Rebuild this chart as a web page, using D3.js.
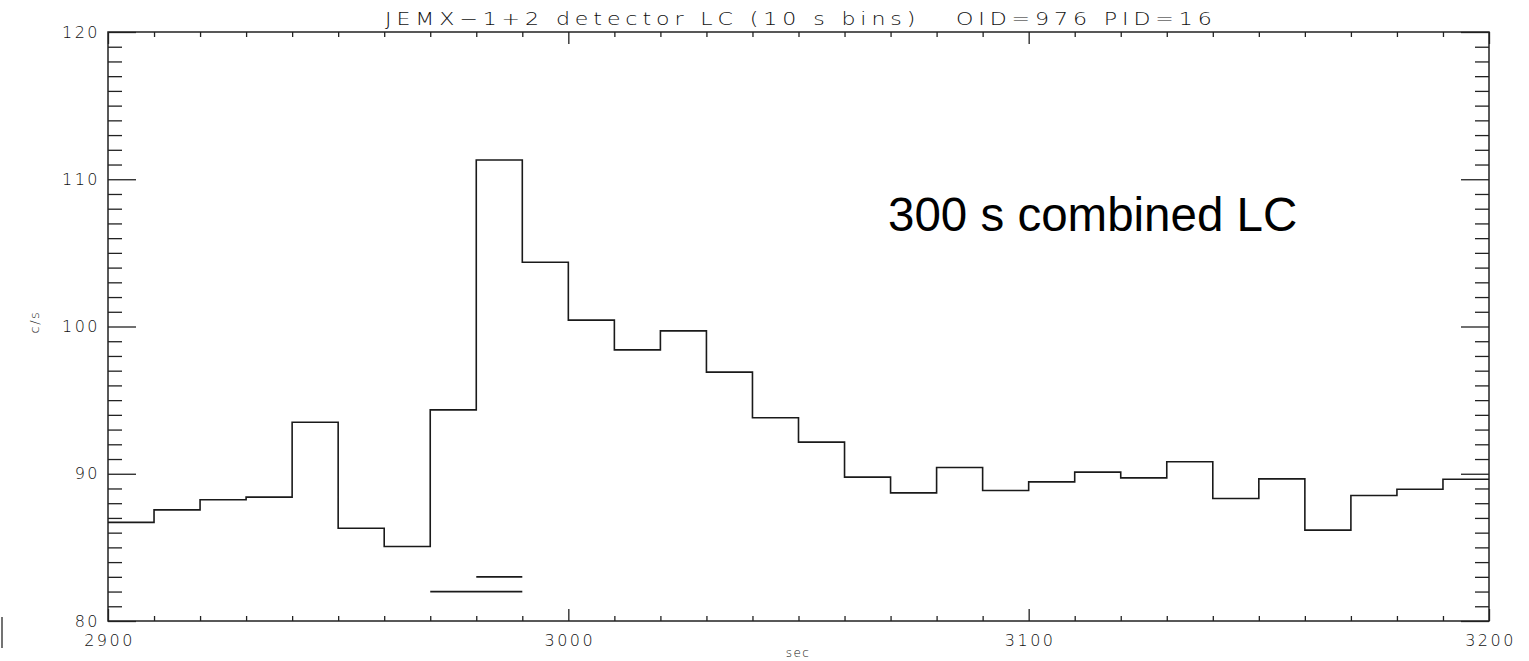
<!DOCTYPE html>
<html>
<head>
<meta charset="utf-8">
<script src="https://cdn.jsdelivr.net/npm/d3@7"></script>
<style>
  body { margin: 0; background: #fff; }
  svg { display: block; }
  .lbl { font-family: "DejaVu Sans", sans-serif; font-weight: 200; font-size: 16px; letter-spacing: 2.5px; fill: #111; }
</style>
</head>
<body>
<svg id="chart" width="1529" height="661"></svg>
<script>
// light curve, 10 s bins (bin start times, c/s)
const binStart = [2900, 2910, 2920, 2930, 2940, 2950, 2960, 2970, 2980, 2990,
                  3000, 3010, 3020, 3030, 3040, 3050, 3060, 3070, 3080, 3090,
                  3100, 3110, 3120, 3130, 3140, 3150, 3160, 3170, 3180, 3190];
const rate = [86.7, 87.55, 88.23, 88.41, 93.5, 86.3, 85.06, 94.34, 111.31, 104.36,
              100.43, 98.41, 99.7, 96.9, 93.8, 92.15, 89.77, 88.7, 90.42, 88.86,
              89.45, 90.11, 89.72, 90.81, 88.32, 89.65, 86.17, 88.52, 88.95, 89.63];
const binWidth = 10;

// the two short horizontal marks near the bottom
const markStart = [2970, 2980];
const markEnd = [2990, 2990];
const markLevel = [82, 83];

const xTicks = [2900, 3000, 3100, 3200];
const yTicks = [80, 90, 100, 110, 120];

const titleText = "JEMX\u22121+2 detector LC (10 s bins)   OID=976 PID=16";
const noteText = "300 s combined LC";

let svg = d3.select("#chart");

let x = d3.scaleLinear().domain([2900, 3200]).range([108, 1489]);
let y = d3.scaleLinear().domain([80, 120]).range([621, 32]);

let xMinor = d3.range(2900, 3201, 10).filter(v => v % 100 != 0);
let yMinor = d3.range(80, 121, 1).filter(v => v % 10 != 0);

function styleAxis(g) {
    g.select(".domain").remove();
    g.selectAll(".tick line").attr("stroke", "#222").attr("stroke-width", 1.3);
}

// bottom axis
svg.append("g").attr("transform", "translate(0,621)")
    .call(d3.axisBottom(x).tickValues(xTicks).tickSize(-12).tickPadding(14).tickFormat(d3.format("d")))
    .call(styleAxis)
    .call(g => g.selectAll("text").attr("class", "lbl").attr("font-family", null).attr("font-size", null)
        .attr("dx", "1px"));
svg.append("g").attr("transform", "translate(0,621)")
    .call(d3.axisBottom(x).tickValues(xMinor).tickSize(-5).tickFormat(""))
    .call(styleAxis);

// top axis
svg.append("g").attr("transform", "translate(0,32)")
    .call(d3.axisTop(x).tickValues(xTicks).tickSize(-12).tickFormat(""))
    .call(styleAxis);
svg.append("g").attr("transform", "translate(0,32)")
    .call(d3.axisTop(x).tickValues(xMinor).tickSize(-5).tickFormat(""))
    .call(styleAxis);

// left axis
svg.append("g").attr("transform", "translate(108,0)")
    .call(d3.axisLeft(y).tickValues(yTicks).tickSize(-28).tickPadding(10).tickFormat(d3.format("d")))
    .call(styleAxis)
    .call(g => g.selectAll("text").attr("class", "lbl").attr("font-family", null).attr("font-size", null)
        .attr("dx", "2px"));
svg.append("g").attr("transform", "translate(108,0)")
    .call(d3.axisLeft(y).tickValues(yMinor).tickSize(-14).tickFormat(""))
    .call(styleAxis);

// right axis
svg.append("g").attr("transform", "translate(1489,0)")
    .call(d3.axisRight(y).tickValues(yTicks).tickSize(-28).tickFormat(""))
    .call(styleAxis);
svg.append("g").attr("transform", "translate(1489,0)")
    .call(d3.axisRight(y).tickValues(yMinor).tickSize(-14).tickFormat(""))
    .call(styleAxis);

// frame
svg.append("rect")
    .attr("x", x(2900)).attr("y", y(120))
    .attr("width", x(3200) - x(2900)).attr("height", y(80) - y(120))
    .attr("fill", "none").attr("stroke", "#222").attr("stroke-width", 1.5);

// step light curve
let pts = binStart.map((t, i) => [t, rate[i]]);
pts.push([binStart[binStart.length - 1] + binWidth, rate[rate.length - 1]]);
let stepLine = d3.line()
    .x(d => x(d[0]))
    .y(d => y(d[1]))
    .curve(d3.curveStepAfter);
svg.append("path")
    .attr("d", stepLine(pts))
    .attr("fill", "none")
    .attr("stroke", "#1a1a1a")
    .attr("stroke-width", 1.6);

// marks
svg.selectAll(".mark").data(markLevel).enter().append("line")
    .attr("class", "mark")
    .attr("x1", (d, i) => x(markStart[i]))
    .attr("x2", (d, i) => x(markEnd[i]))
    .attr("y1", d => y(d)).attr("y2", d => y(d))
    .attr("stroke", "#1a1a1a").attr("stroke-width", 1.8);

// title (stretched a bit to look like the wide plotting font)
svg.append("text")
    .attr("transform", "translate(385,25) scale(1.3,1)")
    .attr("textLength", 636).attr("lengthAdjust", "spacing")
    .style("font-family", "DejaVu Sans, sans-serif").style("font-weight", "200")
    .style("font-size", "17px").style("fill", "#111")
    .style("white-space", "pre")
    .text(titleText);

svg.append("text")
    .attr("x", 798).attr("y", 657)
    .attr("text-anchor", "middle")
    .style("font-family", "DejaVu Sans, sans-serif").style("font-weight", "200")
    .style("font-size", "12px").style("fill", "#111")
    .style("letter-spacing", "1.5px")
    .text("sec");

svg.append("text")
    .attr("transform", "translate(39,322) rotate(-90)")
    .attr("text-anchor", "middle")
    .style("font-family", "DejaVu Sans, sans-serif").style("font-weight", "200")
    .style("font-size", "13px").style("fill", "#111")
    .style("letter-spacing", "1.5px")
    .text("c/s");

// annotation
svg.append("text")
    .attr("x", 888).attr("y", 231)
    .style("font-family", "Liberation Sans, Arial, sans-serif").style("font-size", "47.5px").style("fill", "#000")
    .text(noteText);

// small stray mark at the lower left
svg.append("line")
    .attr("x1", 2).attr("x2", 2).attr("y1", 617).attr("y2", 648)
    .attr("stroke", "#444").attr("stroke-width", 1.5);
</script>
</body>
</html>
